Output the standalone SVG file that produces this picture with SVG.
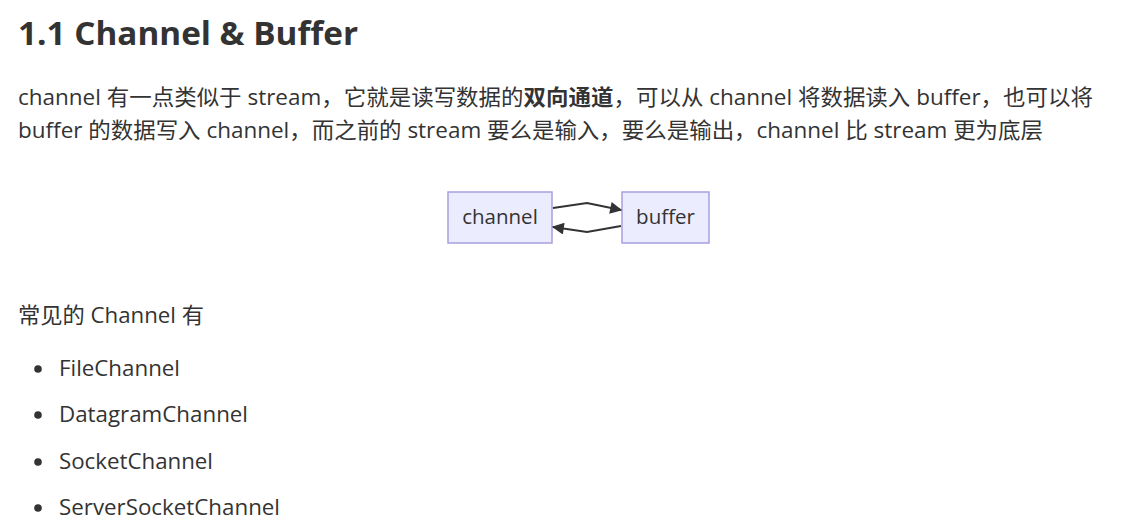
<svg xmlns="http://www.w3.org/2000/svg" width="1123" height="530" viewBox="0 0 1123 530">
<defs>
<style>
.t{font-family:"Open Sans","Noto Sans CJK SC",sans-serif;fill:#333333}
.h{font-size:32px;font-weight:bold}
.p{font-size:21.5px}
.li{font-size:21.5px}
.node rect{fill:#ECECFF;stroke:#A99FE0;stroke-width:1.5}
.node text{font-family:"Open Sans","Noto Sans CJK SC",sans-serif;font-size:20.5px;fill:#333333;text-anchor:middle}
.edge{fill:none;stroke:#333333;stroke-width:2.2}
</style>
<marker id="ah" viewBox="0 0 10 10" refX="9" refY="5" markerWidth="13" markerHeight="12" orient="auto" markerUnits="userSpaceOnUse">
<path d="M0,0 L10,5 L0,10 z" fill="#333333"/>
</marker>
</defs>
<rect width="1123" height="530" fill="#ffffff"/>
<text class="t h" x="18" y="45" textLength="340" lengthAdjust="spacingAndGlyphs">1.1 Channel &amp; Buffer</text>
<text class="t p" x="18" y="105" textLength="1075" lengthAdjust="spacingAndGlyphs">channel 有一点类似于 stream，它就是读写数据的<tspan font-weight="bold">双向通道</tspan>，可以从 channel 将数据读入 buffer，也可以将</text>
<text class="t p" x="18" y="138" textLength="1025" lengthAdjust="spacingAndGlyphs">buffer 的数据写入 channel，而之前的 stream 要么是输入，要么是输出，channel 比 stream 更为底层</text>
<g id="node-channel" class="node">
<rect x="448" y="192" width="104" height="51"/>
<text x="500" y="224">channel</text>
</g>
<g id="node-buffer" class="node">
<rect x="622" y="192" width="87" height="51"/>
<text x="665.5" y="224">buffer</text>
</g>
<g id="connectors">
<path class="edge" d="M553,208 L587,203 L621,210" marker-end="url(#ah)"/>
<path class="edge" d="M621,226 L587,232 L553,227" marker-end="url(#ah)"/>
</g>
<text class="t p" x="18" y="323" textLength="186" lengthAdjust="spacingAndGlyphs">常见的 Channel 有</text>
<g class="t li">
<circle cx="38" cy="369" r="3.8" fill="#333333"/>
<text x="59" y="376" textLength="121" lengthAdjust="spacingAndGlyphs">FileChannel</text>
<circle cx="38" cy="415" r="3.8" fill="#333333"/>
<text x="59" y="422" textLength="189" lengthAdjust="spacingAndGlyphs">DatagramChannel</text>
<circle cx="38" cy="462" r="3.8" fill="#333333"/>
<text x="59" y="469" textLength="154" lengthAdjust="spacingAndGlyphs">SocketChannel</text>
<circle cx="38" cy="508" r="3.8" fill="#333333"/>
<text x="59" y="515" textLength="221" lengthAdjust="spacingAndGlyphs">ServerSocketChannel</text>
</g>
</svg>
